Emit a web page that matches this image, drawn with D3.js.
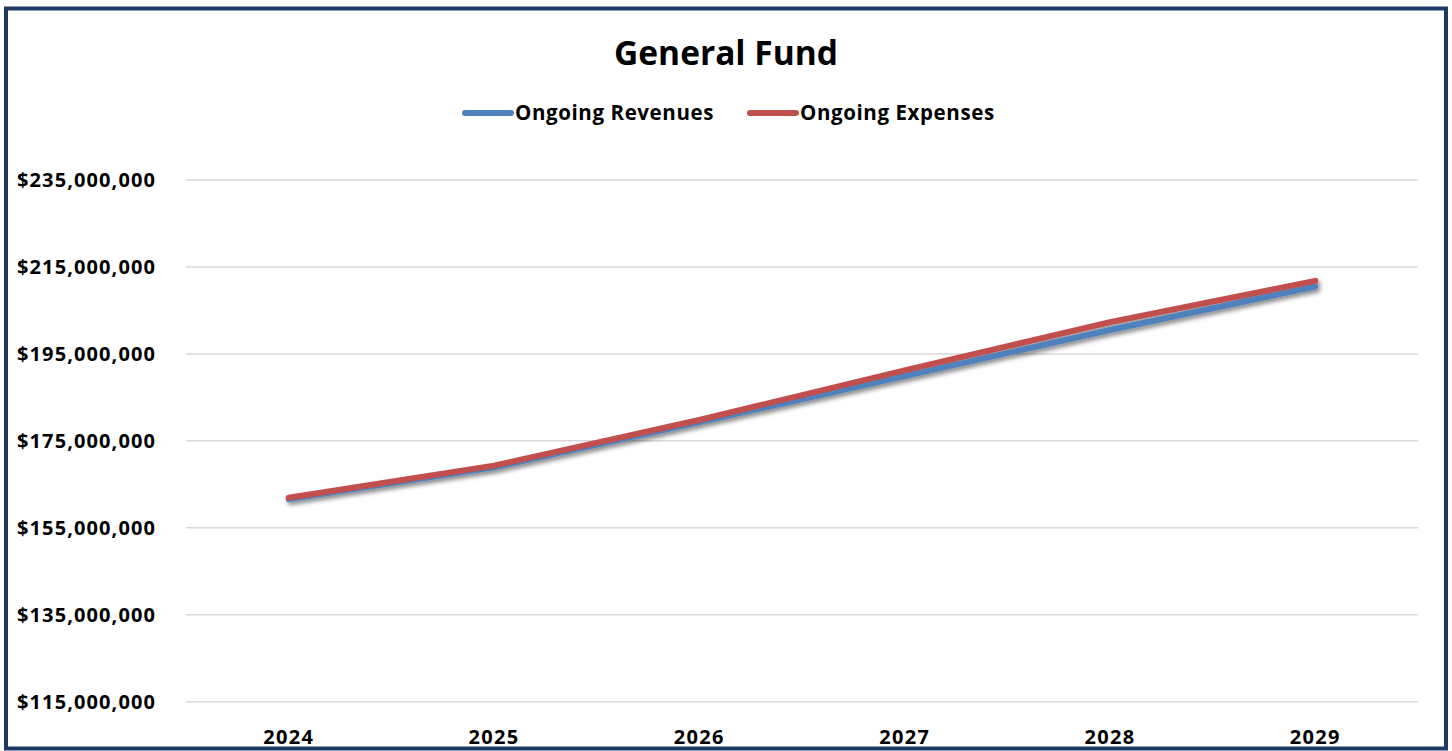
<!DOCTYPE html>
<html>
<head>
<meta charset="utf-8">
<script src="https://cdn.jsdelivr.net/npm/d3@7"></script>
<style>
  html, body { margin: 0; padding: 0; background: #fff; }
  svg { display: block; font-family: "Open Sans", "Noto Sans", sans-serif; }
</style>
</head>
<body>
<svg id="chart" width="1452" height="751"></svg>
<script>
const years = ["2024", "2025", "2026", "2027", "2028", "2029"];
const revenues = [161600000, 168900000, 179300000, 189900000, 200500000, 210500000];
const expenses = [161900000, 169300000, 179800000, 191200000, 202300000, 211800000];
const yTicks = [115000000, 135000000, 155000000, 175000000, 195000000, 215000000, 235000000];

const series = [
  { name: "Ongoing Revenues", values: revenues, color: "#4F81BD" },
  { name: "Ongoing Expenses", values: expenses, color: "#C0504D" }
];

const svg = d3.select("#chart");
const plot = { left: 186, right: 1418, top: 180, bottom: 701.7 };

// outer frame
svg.append("rect")
  .attr("x", 6).attr("y", 8.5)
  .attr("width", 1440).attr("height", 740)
  .attr("fill", "#fff")
  .attr("stroke", "#203864")
  .attr("stroke-width", 4);

// drop shadow for the series lines
const defs = svg.append("defs");
const f = defs.append("filter").attr("id", "shadow")
  .attr("x", "-5%").attr("y", "-20%").attr("width", "110%").attr("height", "140%");
f.append("feDropShadow")
  .attr("dx", 2).attr("dy", 3).attr("stdDeviation", 2)
  .attr("flood-color", "#000").attr("flood-opacity", 0.45);

const x = d3.scalePoint().domain(years).range([plot.left, plot.right]).padding(0.5);
const y = d3.scaleLinear().domain([115000000, 235000000]).range([plot.bottom, plot.top]);

// gridlines
svg.append("g").selectAll("line").data(yTicks).join("line")
  .attr("x1", plot.left).attr("x2", plot.right)
  .attr("y1", d => y(d)).attr("y2", d => y(d))
  .attr("stroke", "#d9d9d9").attr("stroke-width", 1.5);

// y axis labels
const fmt = d => "$" + d3.format(",")(d);
svg.append("g").selectAll("text").data(yTicks).join("text")
  .attr("x", 156).attr("y", d => y(d))
  .attr("dy", "0.35em")
  .attr("text-anchor", "end")
  .attr("font-size", 20).attr("font-weight", 700).attr("fill", "#000")
  .attr("letter-spacing", 1.1)
  .text(fmt);

// x axis labels
svg.append("g").selectAll("text").data(years).join("text")
  .attr("x", d => x(d)).attr("y", 744)
  .attr("text-anchor", "middle")
  .attr("font-size", 20).attr("font-weight", 700).attr("fill", "#000")
  .attr("letter-spacing", 1.3)
  .text(d => d);

// series lines
const line = d3.line()
  .x((d, i) => x(years[i]))
  .y(d => y(d));

svg.append("g").attr("filter", "url(#shadow)")
  .selectAll("path").data(series).join("path")
  .attr("d", s => line(s.values))
  .attr("fill", "none")
  .attr("stroke", s => s.color)
  .attr("stroke-width", 6)
  .attr("stroke-linecap", "round")
  .attr("stroke-linejoin", "round");

// title
svg.append("text")
  .attr("x", 726).attr("y", 65)
  .attr("text-anchor", "middle")
  .attr("font-size", 33.5).attr("font-weight", 700).attr("fill", "#000")
  .text("General Fund");

// legend
const legendX = [465, 750];
const lg = svg.append("g").selectAll("g").data(series).join("g")
  .attr("transform", (d, i) => `translate(${legendX[i]},113)`);
lg.append("line")
  .attr("x1", 0).attr("x2", 46).attr("y1", 0).attr("y2", 0)
  .attr("stroke", d => d.color).attr("stroke-width", 6).attr("stroke-linecap", "round");
lg.append("text")
  .attr("x", 50).attr("y", 0).attr("dy", "0.35em")
  .attr("font-size", 20.5).attr("font-weight", 700).attr("fill", "#000")
  .attr("letter-spacing", 0.6)
  .text(d => d.name);
</script>
</body>
</html>
